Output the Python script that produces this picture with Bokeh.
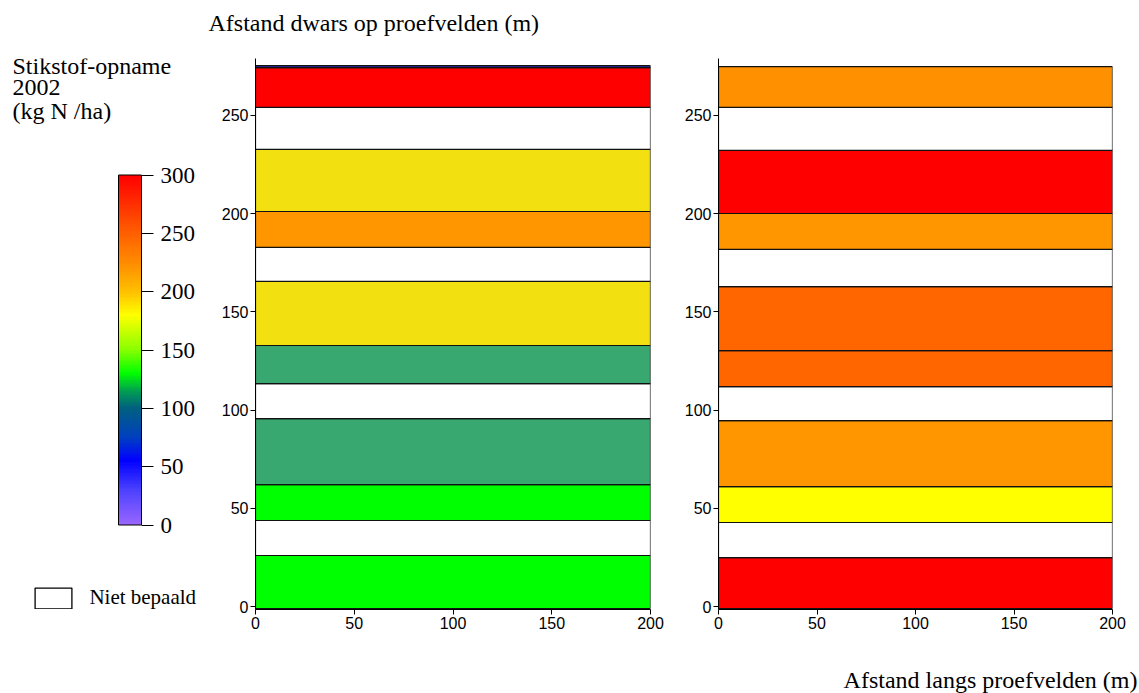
import numpy as np
from bokeh.plotting import figure
from bokeh.models import (Range1d, FixedTicker, ColorBar, LinearColorMapper,
                          Label, Legend, LegendItem, ColumnDataSource)
from bokeh.layouts import row, column
from bokeh.embed import file_html
from bokeh.resources import INLINE

# ---------------- data ----------------
field_x = [0, 200]                      # extent along the plots (m)
y_ticks = [0, 50, 100, 150, 200, 250]
x_ticks = [0, 50, 100, 150, 200]
cbar_ticks = [0, 50, 100, 150, 200, 250, 300]

# Left field: strips across the plots (m) and N uptake 2002 (kg N/ha); None = "Niet bepaald"
left_bottom = [-1.0, 26.0, 43.8, 62.1, 95.7, 113.5, 132.9, 165.5, 182.8, 201.1, 232.7, 254.1, 274.4]
left_top    = [26.0, 43.8, 62.1, 95.7, 113.5, 132.9, 165.5, 182.8, 201.1, 232.7, 254.1, 274.4, 275.4]
left_uptake = [135, None, 135, 110, None, 110, 190, None, 225, 190, None, 300, 50]

# Right field
right_bottom = [-1.0, 24.9, 42.8, 61.1, 94.7, 112.0, 130.3, 162.9, 181.8, 200.1, 232.2, 254.1]
right_top    = [24.9, 42.8, 61.1, 94.7, 112.0, 130.3, 162.9, 181.8, 200.1, 232.2, 254.1, 274.9]
right_uptake = [300, None, 180, 225, None, 255, 255, None, 225, 300, None, 230]

# ---------------- styles ----------------
class_colors = {135: "#00FF00", 110: "#38A870", 190: "#F2E010", 225: "#FF9600",
                300: "#FF0000", 50: "#2A2AAA", 180: "#FFFF00", 255: "#FF6600",
                230: "#FF9000", None: "#FFFFFF"}

anchor_vals = [0, 30, 55, 75, 100, 115, 130, 150, 180, 200, 225, 250, 300]
anchor_cols = ["#9966FF", "#4A40FF", "#0000FF", "#0040C0", "#006080", "#00A050", "#00FF00",
               "#88FF00", "#FFFF00", "#FFC000", "#FF8C00", "#FF6000", "#FF0000"]


def hex2rgb(h):
    return [int(h[i:i + 2], 16) for i in (1, 3, 5)]


rgb = np.array([hex2rgb(c) for c in anchor_cols], dtype=float)
levels = np.linspace(0, 300, 256)
palette = []
for v in levels:
    r, g, b = (np.interp(v, anchor_vals, rgb[:, k]) for k in range(3))
    palette.append("#%02X%02X%02X" % (int(round(r)), int(round(g)), int(round(b))))

SERIF = "Liberation Serif"
SANS = "Liberation Sans"
W = 1139
TOP_H, BOT_H = 40, 30                 # heights of the title strips
ROW_H = 693 - TOP_H - BOT_H
TOP, BOTTOM = 18, 54                  # borders of the row figures (frames 58..609)
DY = 7                                # rendered baseline sits ~7px below the anchor


def blank(width, height, x0, x1, y_bottom, y_top):
    p = figure(width=width, height=height, x_range=Range1d(x0, x1),
               y_range=Range1d(y_bottom, y_top), x_axis_location=None,
               y_axis_location=None, title_location=None, toolbar_location=None,
               output_backend="svg", outline_line_color=None,
               min_border_left=0, min_border_right=0, min_border_top=0, min_border_bottom=0)
    p.xgrid.visible = False
    p.ygrid.visible = False
    return p


# ---------------- title strips ----------------
pt = blank(W, TOP_H, 0, W, TOP_H, 0)
pt.add_layout(Label(x=208, y=29 - DY, text="Afstand dwars op proefvelden (m)", text_font=SERIF,
                    text_font_size="24px", text_baseline="alphabetic", text_color="black"))

pb = blank(W, BOT_H, 0, W, 693, 693 - BOT_H)
pb.add_layout(Label(x=1137, y=686 - DY, text="Afstand langs proefvelden (m)", text_font=SERIF,
                    text_font_size="24px", text_baseline="alphabetic", text_align="right",
                    text_color="black"))

# ---------------- left info panel ----------------
pl = figure(width=203, height=ROW_H, x_range=Range1d(0, 203), y_range=Range1d(609, 58),
            x_axis_location=None, y_axis_location=None, title_location=None,
            toolbar_location=None, output_backend="svg", outline_line_color=None,
            min_border_left=0, min_border_right=0, min_border_top=TOP, min_border_bottom=BOTTOM)
pl.xgrid.visible = False
pl.ygrid.visible = False

for txt, yb in [("Stikstof-opname", 72), ("2002", 94), ("(kg N /ha)", 117)]:
    pl.add_layout(Label(x=12, y=yb - DY, text=txt, text_font=SERIF, text_font_size="24px",
                        text_baseline="alphabetic", text_color="black"))

mapper = LinearColorMapper(palette=palette, low=0, high=300)
cb = ColorBar(color_mapper=mapper, ticker=FixedTicker(ticks=cbar_ticks),
              location=(118, 84.5), width=23, height=350, padding=0, margin=0,
              major_tick_in=0, major_tick_out=12, major_tick_line_color="black",
              minor_tick_line_color=None, bar_line_color="black",
              border_line_color=None, background_fill_color=None,
              major_label_text_font=SERIF, major_label_text_font_size="23px",
              major_label_text_color="black", label_standoff=7)
pl.add_layout(cb)

# legend swatch renderer (kept outside the visible frame)
r_nb = pl.quad(left=[-60], right=[-50], top=[700], bottom=[690], fill_color="white",
               line_color="black", line_width=1.3)
leg = Legend(items=[LegendItem(label="Niet bepaald", renderers=[r_nb])],
             location=(30.4, -1.6), glyph_width=46, glyph_height=26, label_height=26,
             label_standoff=13, padding=0, margin=0, spacing=0,
             border_line_color=None, background_fill_alpha=0,
             label_text_font=SERIF, label_text_font_size="21px", label_text_color="black")
pl.add_layout(leg)


# ---------------- field panels ----------------
def panel(bottoms, tops, uptake, width, mb_left, mb_right):
    p = figure(width=width, height=ROW_H, x_range=Range1d(field_x[0], field_x[1]),
               y_range=Range1d(-1.5, 279), toolbar_location=None, output_backend="svg",
               title_location=None, outline_line_color=None,
               min_border_left=mb_left, min_border_right=mb_right,
               min_border_top=TOP, min_border_bottom=BOTTOM)
    p.xgrid.visible = False
    p.ygrid.visible = False
    src = ColumnDataSource(dict(bottom=bottoms, top=tops,
                                color=[class_colors[u] for u in uptake]))
    p.quad(left=field_x[0], right=field_x[1], bottom="bottom", top="top",
           fill_color="color", line_color="#111111", line_width=1.2, source=src)
    p.xaxis.ticker = FixedTicker(ticks=x_ticks)
    p.yaxis.ticker = FixedTicker(ticks=y_ticks)
    for ax in (p.xaxis[0], p.yaxis[0]):
        ax.major_label_text_font = SANS
        ax.major_label_text_font_size = "16px"
        ax.major_label_text_color = "black"
        ax.axis_line_color = "black"
        ax.major_tick_line_color = "black"
        ax.minor_tick_line_color = None
        ax.major_tick_in = 0
        ax.major_tick_out = 5
        ax.major_label_standoff = 2
    return p


p1 = panel(left_bottom, left_top, left_uptake, 473, 52, 26)
p2 = panel(right_bottom, right_top, right_uptake, 463, 42, 27)

layout = column(pt, row(pl, p1, p2), pb)
open("out.html", "w").write(file_html(layout, INLINE))
